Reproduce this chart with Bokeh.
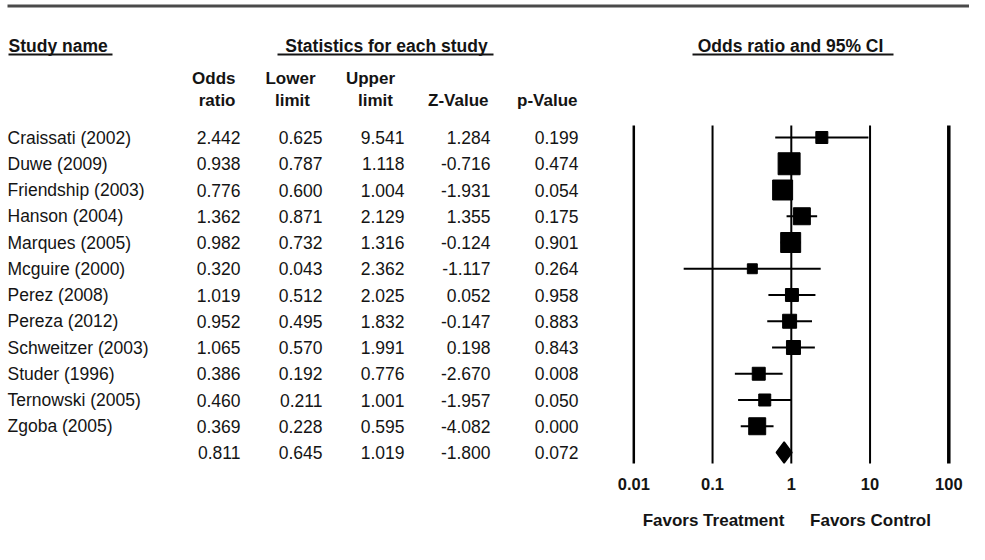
import numpy as np
from bokeh.plotting import figure
from bokeh.models import Range1d, LogScale
from bokeh.core.properties import value
from bokeh.embed import file_html
from bokeh.resources import INLINE

# ---------------- data ----------------
studies = ["Craissati (2002)", "Duwe (2009)", "Friendship (2003)", "Hanson (2004)",
           "Marques (2005)", "Mcguire (2000)", "Perez (2008)", "Pereza (2012)",
           "Schweitzer (2003)", "Studer (1996)", "Ternowski (2005)", "Zgoba (2005)"]
odds_ratio = [2.442, 0.938, 0.776, 1.362, 0.982, 0.320, 1.019, 0.952, 1.065, 0.386, 0.460, 0.369]
lower_limit = [0.625, 0.787, 0.600, 0.871, 0.732, 0.043, 0.512, 0.495, 0.570, 0.192, 0.211, 0.228]
upper_limit = [9.541, 1.118, 1.004, 2.129, 1.316, 2.362, 2.025, 1.832, 1.991, 0.776, 1.001, 0.595]
z_value = [1.284, -0.716, -1.931, 1.355, -0.124, -1.117, 0.052, -0.147, 0.198, -2.670, -1.957, -4.082]
p_value = [0.199, 0.474, 0.054, 0.175, 0.901, 0.264, 0.958, 0.883, 0.843, 0.008, 0.050, 0.000]
rel_weight = [4.8, 16.1, 13.3, 9.6, 13.3, 3.3, 5.6, 6.5, 6.5, 5.6, 4.8, 9.6]

summary_or = 0.811
summary_lower = 0.645
summary_upper = 1.019
summary_z = -1.800
summary_p = 0.072

scale_ticks = [0.01, 0.1, 1, 10, 100]
scale_labels = ["0.01", "0.1", "1", "10", "100"]

# ---------------- layout helpers ----------------
W, H = 969, 544
ROW0, ROWH = 137.0, 26.25          # pixel of first row, row pitch
def ry(py):
    return (py - ROW0) / ROWH

FONT = value("Liberation Sans")
TXT = "#141414"

n = len(studies)
rows = list(range(n))
srow = n

p = figure(width=W, height=H, output_backend="svg", toolbar_location=None,
           x_range=Range1d(0, W), y_range=Range1d(ry(H), ry(0)),
           x_axis_location=None, y_axis_location=None, min_border=0,
           outline_line_color=None, background_fill_color="white", border_fill_color="white")
p.grid.visible = False
DEC = 78.75
p.extra_x_ranges = {"log": Range1d(10 ** (-2 - 633.3 / DEC), 10 ** (2 + (W - 948.3) / DEC))}
p.extra_x_scales = {"log": LogScale()}

# top rule
p.segment(x0=[7], x1=[W], y0=[ry(5.5)], y1=[ry(5.5)], line_width=3, line_color="#4a4a4a")

# group headers
def htext(x, y, t, align="left", size="17px"):
    p.text(x=[x], y=[y], text=[t], text_font=FONT, text_font_size=size, text_font_style="bold",
           text_align=align, text_baseline="middle", text_color=TXT)

htext(8, ry(45), "Study name", "left", "17.5px")
htext(386, ry(45), "Statistics for each study", "center", "17.5px")
htext(790, ry(45), "Odds ratio and 95% CI", "center", "17.5px")
p.segment(x0=[8, 277, 692], x1=[112, 493, 893], y0=[ry(54)] * 3, y1=[ry(54)] * 3,
          line_width=2, line_color=TXT)

# column headers
htext(235, ry(78), "Odds", "right")
htext(235, ry(100), "ratio", "right")
htext(290, ry(78), "Lower", "center")
htext(292, ry(100), "limit", "center")
htext(370, ry(78), "Upper", "center")
htext(375, ry(100), "limit", "center")
htext(488, ry(100), "Z-Value", "right")
htext(577, ry(100), "p-Value", "right")

# table body
def body(x, ys, texts, align):
    p.text(x=[x] * len(ys), y=ys, text=texts, text_font=FONT, text_font_size="17.5px",
           text_align=align, text_baseline="middle", text_color=TXT)

body(7, rows, studies, "left")
cols = [(240, odds_ratio + [summary_or]), (322, lower_limit + [summary_lower]),
        (404, upper_limit + [summary_upper]), (490, z_value + [summary_z]),
        (578, p_value + [summary_p])]
for xr, vals in cols:
    body(xr, rows + [srow], ["%.3f" % v for v in vals], "right")

# forest plot: reference lines
p.segment(x0=scale_ticks, x1=scale_ticks, y0=[ry(125)] * 5, y1=[ry(463)] * 5,
          line_width=[2.5, 2, 2, 2, 3.5], line_color="black", x_range_name="log")

# confidence intervals
p.segment(x0=lower_limit, x1=upper_limit, y0=rows, y1=rows, line_width=2,
          line_color="black", x_range_name="log")

# boxes sized by relative weight
sizes = [5.48 * np.sqrt(w) for w in rel_weight]
p.scatter(x=odds_ratio, y=rows, size=sizes, marker="square", fill_color="black",
          line_color="black", x_range_name="log")

# summary diamond
h = 0.4
p.patch(x=[summary_lower, summary_or, summary_upper, summary_or],
        y=[srow, srow - h, srow, srow + h], fill_color="black", line_color="black",
        line_width=1.5, x_range_name="log")

# scale labels
p.text(x=scale_ticks, y=[ry(483)] * 5, text=scale_labels, text_font=FONT,
       text_font_size="16.5px", text_font_style="bold", text_align="center",
       text_baseline="middle", text_color=TXT, x_range_name="log")

htext(713, ry(520), "Favors Treatment", "center", "17px")
htext(870, ry(520), "Favors Control", "center", "17px")

open("out.html", "w").write(file_html(p, INLINE))
